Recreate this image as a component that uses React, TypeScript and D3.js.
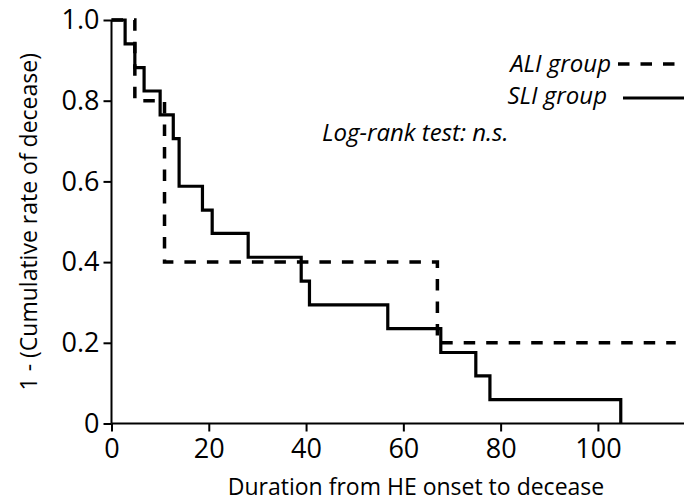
import { useEffect, useRef } from 'react';
import * as d3 from 'd3';

// Kaplan-Meier style steps
const sliTimes = [0, 2.8, 4.8, 6.7, 10, 12.7, 13.9, 18.7, 20.7, 28.1, 39, 40.7, 56.8, 67.7, 74.9, 77.8, 104.7];
const sliValues = [1, 0.941, 0.882, 0.824, 0.765, 0.706, 0.588, 0.529, 0.471, 0.412, 0.353, 0.294, 0.235, 0.176, 0.118, 0.059, 0];
const aliTimes = [0, 4.8, 10.9, 67, 116];
const aliValues = [1, 0.8, 0.4, 0.2, 0.2];
const xTicks = [0, 20, 40, 60, 80, 100];
const yTicks = [0, 0.2, 0.4, 0.6, 0.8, 1.0];

const W = 684;
const H = 502;
const FONT = '"Open Sans", "DejaVu Sans", sans-serif';

const App = () => {
  const svgRef = useRef<SVGSVGElement | null>(null);

  useEffect(() => {
    const svg = d3.select(svgRef.current);
    svg.selectAll('*').remove();

    const x = d3.scaleLinear().domain([0, 117.7]).range([111.5, 684]);
    const y = d3.scaleLinear().domain([0, 1]).range([423.5, 20]);

    // y axis
    const yAxis = svg.append('g')
      .attr('transform', `translate(${x(0)},0)`)
      .call(d3.axisLeft(y).tickValues(yTicks).tickSize(8).tickPadding(4)
        .tickFormat(d => (+d === 0 ? '0' : d3.format('.1f')(+d))));
    yAxis.select('.domain').attr('d', `M0,${y(1)}V${y(0)}`).attr('stroke-width', 2);
    yAxis.selectAll('.tick line').attr('stroke-width', 2);
    yAxis.selectAll('.tick text')
      .attr('font-family', FONT).attr('font-size', 27).attr('fill', '#000');

    // x axis
    const xAxis = svg.append('g')
      .attr('transform', `translate(0,${y(0)})`)
      .call(d3.axisBottom(x).tickValues(xTicks).tickSize(8).tickPadding(7));
    xAxis.select('.domain').attr('d', `M${x(0)},0H${W}`).attr('stroke-width', 2);
    xAxis.selectAll('.tick line').attr('stroke-width', 2);
    xAxis.selectAll('.tick text')
      .attr('font-family', FONT).attr('font-size', 27).attr('fill', '#000');

    const line = d3.line<[number, number]>()
      .x(d => x(d[0]))
      .y(d => y(d[1]))
      .curve(d3.curveStepAfter);

    const ali = aliTimes.map((t, i) => [t, aliValues[i]] as [number, number]);
    const sli = sliTimes.map((t, i) => [t, sliValues[i]] as [number, number]);

    svg.append('path')
      .attr('d', line(ali))
      .attr('fill', 'none')
      .attr('stroke', '#000')
      .attr('stroke-width', 3.5)
      .attr('stroke-dasharray', '11.5,11');

    svg.append('path')
      .attr('d', line(sli))
      .attr('fill', 'none')
      .attr('stroke', '#000')
      .attr('stroke-width', 3.2);

    // legend
    svg.append('text')
      .attr('x', 611).attr('y', 72)
      .attr('text-anchor', 'end')
      .attr('font-family', FONT).attr('font-style', 'italic').attr('font-size', 24)
      .text('ALI group');
    svg.append('line')
      .attr('x1', 618).attr('x2', 684).attr('y1', 64).attr('y2', 64)
      .attr('stroke', '#000').attr('stroke-width', 3.5).attr('stroke-dasharray', '11.5,11');

    svg.append('text')
      .attr('x', 607).attr('y', 104)
      .attr('text-anchor', 'end')
      .attr('font-family', FONT).attr('font-style', 'italic').attr('font-size', 24)
      .text('SLI group');
    svg.append('line')
      .attr('x1', 623).attr('x2', 684).attr('y1', 98).attr('y2', 98)
      .attr('stroke', '#000').attr('stroke-width', 3);

    svg.append('text')
      .attr('x', 322).attr('y', 141)
      .attr('font-family', FONT).attr('font-style', 'italic').attr('font-size', 24)
      .text('Log-rank test: n.s.');

    // axis titles
    svg.append('text')
      .attr('x', 416).attr('y', 495)
      .attr('text-anchor', 'middle')
      .attr('font-family', FONT).attr('font-size', 23)
      .text('Duration from HE onset to decease');

    svg.append('text')
      .attr('transform', `translate(37,${(y(0) + y(1)) / 2}) rotate(-90)`)
      .attr('text-anchor', 'middle')
      .attr('font-family', FONT).attr('font-size', 23)
      .text('1 - (Cumulative rate of decease)');
  }, []);

  return (
    <svg
      ref={svgRef}
      width={W}
      height={H}
      style={{ position: 'absolute', left: 0, top: 0, background: '#fff' }}
    />
  );
};

export default App;
